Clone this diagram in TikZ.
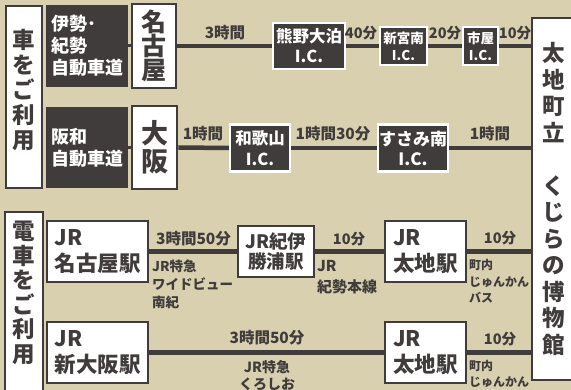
\documentclass[tikz,border=0pt]{standalone}
\usepackage{fontspec}
\setmainfont{Noto Sans CJK JP}
\definecolor{bg}{RGB}{217,208,176}
\definecolor{ink}{RGB}{64,60,59}
\begin{document}
\begin{tikzpicture}[x=1pt,y=-1pt,
  wbox/.style={draw=ink, line width=2.6pt, fill=white, inner sep=0pt, text=ink},
  dbox/.style={fill=ink, inner sep=0pt, text=white, align=left, font=\bfseries\fontsize{18}{22}\selectfont},
  icbox/.style={draw=white, line width=2.3pt, fill=ink, inner sep=0pt, text=white, align=center},
  route/.style={draw=ink, line width=4.5pt},
  link/.style={draw=ink, line width=3pt},
  lbl/.style={text=ink, inner sep=0pt, font=\bfseries\fontsize{15.5}{17}\selectfont},
  slbl/.style={text=ink, inner sep=0pt, font=\bfseries\fontsize{14.5}{17}\selectfont},
  note/.style={text=ink, inner sep=0pt, align=left},
  vtext/.style={text=ink, inner sep=0pt, align=center},
  stn/.style={wbox, align=left, font=\bfseries\fontsize{21.5}{26}\selectfont},
]
\useasboundingbox (0,0) rectangle (571,390);
\fill[bg] (0,0) rectangle (571,390);

% left category boxes
\node[wbox, minimum width=36pt, minimum height=182pt] (carbox) at (24,97) {};
\node[vtext, font=\bfseries\fontsize{22.5}{25}\selectfont] (cartext) at (24,90.5) {車\\を\\ご\\利\\用};
\node[wbox, minimum width=38pt, minimum height=190pt] (trainbox) at (24,307) {};
\node[vtext, font=\bfseries\fontsize{22.5}{24.5}\selectfont] (traintext) at (24,293) {電\\車\\を\\ご\\利\\用};

% museum
\node[wbox, minimum width=44pt, minimum height=362pt, align=center, font=\bfseries\fontsize{22.5}{26.5}\selectfont] (museum) at (554,199)
  {太\\地\\町\\立\\　\\く\\じ\\ら\\の\\博\\物\\館};

% row 1
\node[dbox, minimum width=82pt, minimum height=82pt] (isekisei) at (87,46) {伊勢･\\紀勢\\自動車道};
\node[wbox, minimum width=44pt, minimum height=84pt, align=center, font=\bfseries\fontsize{25}{24}\selectfont] (nagoya) at (154,46) {名\\古\\屋};
\node[icbox, minimum width=72pt, minimum height=46pt, font=\bfseries\fontsize{16.5}{20}\selectfont] (kumano) at (309,46) {熊野大泊\\I.C.};
\node[icbox, minimum width=47pt, minimum height=38pt, font=\bfseries\fontsize{13.5}{17}\selectfont] (shingu) at (403.5,46) {新宮南\\I.C.};
\node[icbox, minimum width=35pt, minimum height=38pt, font=\bfseries\fontsize{13.5}{17}\selectfont] (ichiya) at (480.5,46) {市屋\\I.C.};
\draw[link] (isekisei.east) -- (nagoya.west);
\draw[route] (nagoya.east) -- (kumano.west);
\draw[route] (kumano.east) -- (shingu.west);
\draw[route] (shingu.east) -- (ichiya.west);
\draw[route] (ichiya.east) -- (museum.west |- ichiya.east);
\node[lbl] (t1a) at (225,33) {3時間};
\node[slbl] (t1b) at (361,33) {40分};
\node[slbl] (t1c) at (445,33) {20分};
\node[slbl] (t1d) at (515,33) {10分};

% row 2
\node[dbox, minimum width=82pt, minimum height=81pt] (hanwa) at (87,147.5) {阪和\\自動車道};
\node[wbox, minimum width=45pt, minimum height=83pt, align=center, font=\bfseries\fontsize{27}{28}\selectfont] (osaka) at (154.5,147.5) {大\\阪};
\node[icbox, minimum width=60pt, minimum height=47pt, font=\bfseries\fontsize{16.5}{21}\selectfont] (wakayama) at (260,148) {和歌山\\I.C.};
\node[icbox, minimum width=70pt, minimum height=47pt, font=\bfseries\fontsize{17}{20}\selectfont] (susami) at (413,148) {すさみ南\\I.C.};
\draw[link] (hanwa.east) -- (osaka.west);
\draw[route] (osaka.east) -- (wakayama.west);
\draw[route] (wakayama.east) -- (susami.west);
\draw[route] (susami.east) -- (museum.west |- susami.east);
\node[lbl] (t2a) at (203,134) {1時間};
\node[lbl] (t2b) at (333,134) {1時間30分};
\node[lbl] (t2c) at (490,134) {1時間};

% row 3
\node[stn, minimum width=101pt, minimum height=61pt] (jrnagoya) at (97.5,251.5) {JR\\名古屋駅};
\node[wbox, align=center, font=\bfseries\fontsize{18.5}{20}\selectfont, minimum width=76pt, minimum height=51pt] (katsuura) at (276,251.5) {JR紀伊\\勝浦駅};
\node[stn, minimum width=81pt, minimum height=61pt] (taiji1) at (425.5,251.5) {JR\\太地駅};
\draw[route] (jrnagoya.east) -- (katsuura.west);
\draw[route] (katsuura.east) -- (taiji1.west);
\draw[route] (taiji1.east) -- (museum.west |- taiji1.east);
\node[lbl] (t3a) at (193.5,239) {3時間50分};
\node[note, anchor=west, font=\bfseries\fontsize{13.5}{18}\selectfont] (n3a) at (152,284) {JR特急\\ワイドビュー\\南紀};
\node[slbl] (t3b) at (349,239) {10分};
\node[note, anchor=west, font=\bfseries\fontsize{15}{21}\selectfont] (n3b) at (317,277) {JR\\紀勢本線};
\node[slbl] (t3c) at (500,238) {10分};
\node[note, anchor=west, font=\bfseries\fontsize{12}{16.5}\selectfont] (n3c) at (469,281.5) {町内\\じゅんかん\\バス};

% row 4
\node[stn, minimum width=101pt, minimum height=61pt] (jrosaka) at (97.5,352.5) {JR\\新大阪駅};
\node[stn, minimum width=81pt, minimum height=61pt] (taiji2) at (425.5,352.5) {JR\\太地駅};
\draw[route] (jrosaka.east) -- (taiji2.west);
\draw[route] (taiji2.east) -- (museum.west |- taiji2.east);
\node[lbl] (t4a) at (267,338) {3時間50分};
\node[note, align=center, font=\bfseries\fontsize{14}{17}\selectfont] (n4a) at (267,375.5) {JR特急\\くろしお};
\node[slbl] (t4b) at (500,339) {10分};
\node[note, anchor=west, font=\bfseries\fontsize{12}{16}\selectfont] (n4b) at (469,374) {町内\\じゅんかん};
\end{tikzpicture}
\end{document}
